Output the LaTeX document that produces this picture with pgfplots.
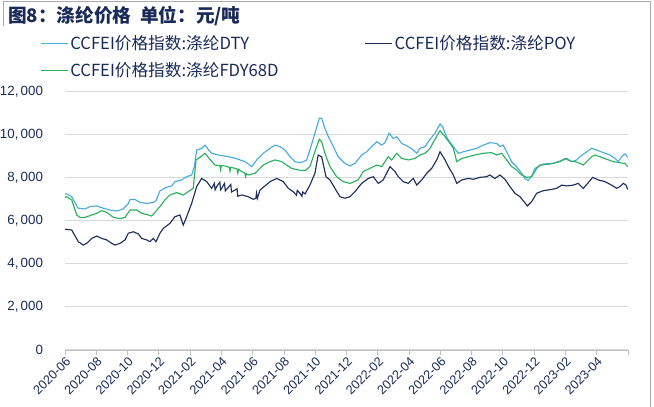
\documentclass[border=0pt]{standalone}
\usepackage{fontspec}
\setmainfont{Liberation Sans}
\newfontfamily\cjk{Noto Sans CJK SC}
\usepackage{pgfplots}
\pgfplotsset{compat=1.18}
\usepackage{pgfplotstable}

\definecolor{dtyc}{RGB}{72,172,222}
\definecolor{poyc}{RGB}{30,45,92}
\definecolor{fdyc}{RGB}{44,176,96}
\definecolor{navy}{RGB}{26,42,88}
\definecolor{axisgray}{RGB}{191,191,191}
\definecolor{gridgray}{RGB}{217,217,217}
\definecolor{framegray}{RGB}{170,170,170}

% m = months since 2020-06
\pgfplotstableread{
m v
0 7250
0.11 7260
0.43 7130
0.83 6600
1.28 6560
1.60 6670
2.03 6700
2.43 6600
2.88 6510
3.31 6465
3.71 6560
4.03 6790
4.16 7000
4.48 7000
4.80 6860
5.22 6820
5.65 6860
5.82 6950
6.07 7400
6.50 7570
6.82 7630
7.03 7830
7.46 7910
7.78 8060
8.10 8140
8.27 8530
8.42 9300
8.74 9380
8.95 9530
9.16 9330
9.38 9150
9.80 9070
10.23 9020
10.66 8960
11.08 8870
11.51 8760
11.94 8530
12.26 8840
12.68 9150
13.11 9380
13.43 9530
13.75 9460
14.07 9300
14.39 8990
14.71 8760
15.03 8710
15.24 8760
15.45 8840
15.66 9300
15.98 10080
16.26 10780
16.41 10780
16.62 10310
16.84 9920
17.16 9460
17.47 8990
17.90 8680
18.22 8560
18.54 8680
18.97 9070
19.29 9220
19.61 9460
19.93 9690
20.25 9530
20.46 9640
20.72 10080
20.99 9840
21.21 9920
21.53 9610
21.95 9460
22.27 9300
22.49 9150
22.70 9380
23.02 9460
23.34 9800
23.66 10080
23.98 10510
24.15 10390
24.30 10080
24.51 9770
24.83 9460
25.15 9150
25.47 9220
25.90 9300
26.32 9380
26.75 9530
27.17 9640
27.60 9610
27.81 9460
28.02 9530
28.24 9220
28.56 8760
28.88 8530
29.20 8220
29.41 7980
29.62 7880
29.84 8090
30.05 8450
30.58 8650
31.22 8680
31.86 8840
32.08 8910
32.40 8760
32.72 8840
32.93 8990
33.36 9220
33.68 9380
34.00 9300
34.42 9180
34.85 9070
35.17 8910
35.38 8760
35.59 8990
35.81 9120
35.98 8960
}\dty

\pgfplotstableread{
m v
0 5620
0.11 5610
0.43 5580
0.85 5040
1.17 4880
1.39 4960
1.71 5190
2.03 5300
2.35 5190
2.67 5120
2.99 4960
3.20 4880
3.52 4960
3.84 5120
4.05 5430
4.37 5500
4.69 5400
4.90 5190
5.22 5120
5.43 5040
5.65 5190
5.82 5040
6.07 5430
6.29 5660
6.71 5890
7.03 6200
7.35 6280
7.56 5810
7.78 6200
8.10 6820
8.42 7600
8.74 7980
9.06 7830
9.38 7520
9.55 7750
9.60 7450
9.70 7600
9.90 7800
9.95 7450
10.02 7520
10.20 7750
10.25 7400
10.44 7560
10.60 7700
10.65 7350
10.87 7440
11.00 7500
11.05 7150
11.30 7210
11.72 7130
12.04 7010
12.20 7050
12.25 7300
12.30 7050
12.47 7440
13.11 7830
13.54 7980
13.96 7830
14.28 7520
14.60 7360
14.80 7200
14.85 7420
15.03 7290
15.15 7150
15.20 7350
15.35 7260
15.66 7670
15.98 8220
16.19 9070
16.41 8990
16.69 8060
16.94 7910
17.26 7520
17.58 7130
17.90 7060
18.22 7130
18.54 7360
18.97 7750
19.39 7980
19.71 8060
20.03 7750
20.35 7910
20.78 8530
21.10 8300
21.31 8060
21.63 7830
21.95 7750
22.27 7980
22.49 7670
22.81 7910
23.13 8220
23.45 8450
23.77 8840
23.98 9220
24.30 8840
24.51 8530
24.83 8140
25.05 7750
25.37 7910
25.79 7980
26.11 7940
26.53 8030
26.96 8060
27.17 8140
27.49 7980
27.81 8140
28.13 7940
28.45 7600
28.77 7290
29.09 7130
29.41 6850
29.56 6700
29.84 6900
30.16 7290
30.58 7410
31.12 7470
31.44 7520
31.76 7670
32.08 7630
32.50 7670
32.82 7750
33.14 7520
33.46 7780
33.74 8030
34.10 7910
34.53 7830
34.95 7670
35.27 7520
35.49 7600
35.70 7750
35.87 7670
35.98 7470
}\poy

\pgfplotstableread{
m v
0 7100
0.11 7130
0.43 6980
0.75 6280
0.96 6170
1.28 6170
1.71 6280
2.03 6360
2.35 6480
2.67 6400
3.09 6170
3.52 6110
3.84 6170
4.16 6510
4.58 6510
4.90 6360
5.33 6280
5.54 6230
5.75 6400
6.07 6670
6.39 6980
6.71 7210
7.14 7320
7.56 7210
7.88 7360
8.20 7520
8.38 8840
8.63 8960
8.95 9150
9.27 8870
9.59 8600
9.90 8580
9.95 8380
10.00 8580
10.23 8560
10.50 8500
10.55 8320
10.60 8500
10.87 8450
11.00 8420
11.05 8230
11.10 8400
11.30 8300
11.50 8230
11.55 8060
11.60 8200
11.72 8140
12.15 8220
12.68 8600
13.11 8760
13.43 8840
13.86 8760
14.17 8600
14.49 8450
14.92 8370
15.35 8340
15.66 8530
15.98 9220
16.26 9800
16.41 9690
16.62 9150
16.94 8530
17.37 8060
17.79 7830
18.22 7750
18.75 7910
19.07 8300
19.50 8450
19.93 8600
20.25 8530
20.67 8990
20.89 8840
21.21 9150
21.53 8910
21.95 8840
22.38 8910
22.70 9070
23.02 9150
23.34 9380
23.66 9800
23.98 10200
24.30 9920
24.62 9610
24.83 9380
25.05 8760
25.37 8910
25.79 8990
26.21 9070
26.75 9150
27.28 9180
27.60 9070
27.92 9150
28.24 8840
28.56 8530
28.88 8370
29.20 8140
29.52 8030
29.84 8060
30.16 8450
30.37 8600
31.01 8650
31.65 8760
31.97 8910
32.29 8790
32.61 8760
32.93 8680
33.14 8600
33.36 8760
33.68 8990
33.89 9070
34.21 8990
34.63 8870
35.06 8760
35.49 8710
35.81 8680
35.98 8530
}\fdy

\begin{document}
\begin{tikzpicture}
% 1px = 0.75pt, picture 654x407 px
\path[use as bounding box] (0,0) rectangle (490.5pt,305.25pt);
\draw[framegray, line width=0.6pt] (2.25pt,285.75pt) -- (2.25pt,304.5pt) -- (487.5pt,304.5pt) -- (487.5pt,0pt);
\node[anchor=west, inner sep=0pt, text=navy, font=\cjk\bfseries\fontsize{14}{16}\selectfont]
  at (6pt,293.5pt) {图8：涤纶价格\hspace{0.45em}单位：元/吨};

\begin{axis}[
  at={(48.75pt,42.75pt)}, anchor=south west,
  scale only axis, width=422.25pt, height=193.5pt,
  xmin=0, xmax=36, ymin=0, ymax=12000,
  axis x line*=bottom, axis y line*=left,
  x axis line style={draw=axisgray, line width=0.6pt, -},
  y axis line style={draw=none},
  xtick={0,2,...,36},
  xticklabels={2020-06,2020-08,2020-10,2020-12,2021-02,2021-04,2021-06,2021-08,2021-10,2021-12,2022-02,2022-04,2022-06,2022-08,2022-10,2022-12,2023-02,2023-04,{}},
  tick align=outside, major tick length=4pt,
  xtick style={draw=axisgray, line width=0.6pt},
  ytick={0,2000,...,12000}, ytick style={draw=none},
  scaled y ticks=false,
  yticklabel={\pgfmathprintnumber[assume math mode=true,1000 sep={,\,}]{\tick}},
  ymajorgrids, grid style={draw=gridgray, line width=0.75pt},
  xticklabel style={rotate=45, anchor=north east, inner sep=0.5pt, text=navy, font=\fontsize{9.5}{10}\selectfont},
  yticklabel style={text=navy, font=\fontsize{10}{11}\selectfont, xshift=-9pt},
  legend columns=2,
  legend cell align=left,
  legend style={draw=none, fill=none, at={(-0.0444,1.229)}, anchor=north west, inner sep=0pt,
    font=\cjk\fontsize{12.5}{14}\selectfont, text=navy, row sep=5.5pt,
    nodes={inner sep=1.5pt},
    /tikz/every even column/.append style={column sep=63pt}},
  legend image code/.code={\draw[#1, line width=1pt] (0pt,0pt) -- (20pt,0pt);},
]
\addplot[dtyc, line width=0.85pt] table[x=m, y=v] {\dty};
\addlegendentry{CCFEI价格指数:涤纶DTY}
\addplot[poyc, line width=0.85pt] table[x=m, y=v] {\poy};
\addlegendentry{CCFEI价格指数:涤纶POY}
\addplot[fdyc, line width=0.85pt] table[x=m, y=v] {\fdy};
\addlegendentry{CCFEI价格指数:涤纶FDY68D}
\end{axis}
\end{tikzpicture}
\end{document}
